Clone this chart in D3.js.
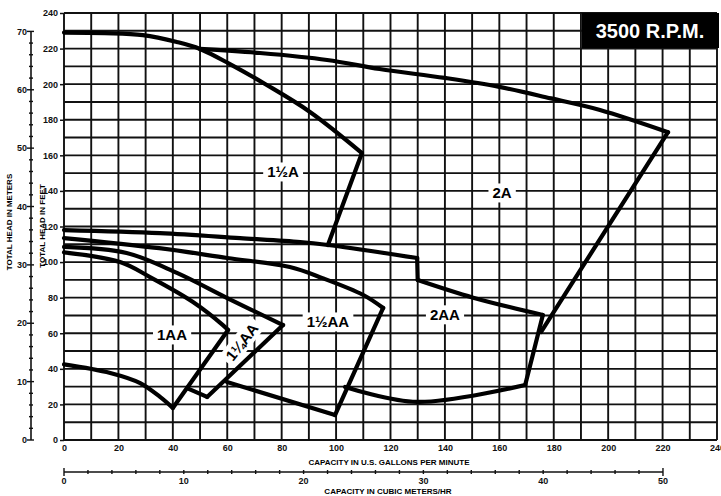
<!DOCTYPE html>
<html>
<head>
<meta charset="utf-8">
<script src="https://cdn.jsdelivr.net/npm/d3@7"></script>
<style>
  body { margin: 0; background: #fff; }
  text { font-family: "Liberation Sans", Arial, sans-serif; }
</style>
</head>
<body>
<script>
// pump curves, 3500 rpm -- values are [gpm, feet of head]

var gpmTicks = [0, 20, 40, 60, 80, 100, 120, 140, 160, 180, 200, 220, 240];
var feetTicks = [0, 20, 40, 60, 80, 100, 120, 140, 160, 180, 200, 220, 240];
var meterTicks = [0, 10, 20, 30, 40, 50, 60, 70];
var cubicTicks = [0, 10, 20, 30, 40, 50];

// impeller curves
var oneHalfAMax = [[0, 229], [15, 228.7], [29, 227.6], [41.5, 223.7], [50, 219.8], [61, 211.3], [73.9, 200.1], [90.4, 184.4], [109.5, 161.3]];
var twoAMax = [[50, 219.8], [72, 217.5], [96.7, 213.6], [116, 208.5], [140, 203.5], [160, 198.5], [179, 192], [197, 185.5], [222, 173]];
var twoARight = [[222, 173], [175.3, 60.7]];
var oneHalfARight = [[109.5, 161.3], [97, 109.6]];
var aMin = [[0, 118], [35.3, 116.3], [64.7, 113.5], [86.8, 111.3], [97, 109.6], [129.8, 102.3]];
var twoAAStep = [[129.8, 102.3], [130, 89.9]];
var twoAAMax = [[130, 89.9], [150.4, 80], [176, 70.3]];
var twoAARight = [[176, 70.3], [169.5, 30.9]];
var twoAAMin = [[103.3, 29.8], [129.8, 21.4], [169.5, 30.9]];
var oneHalfAAMax = [[0, 113.5], [35, 107.8], [60, 102.3], [83, 97.2], [95, 91], [110, 81.5], [117.3, 74.2]];
var oneHalfAARight = [[117.3, 74.2], [99.6, 14]];
var oneHalfAAMin = [[59.9, 32.6], [99.6, 14]];
var oneQuarterAAMax = [[0, 108.5], [23, 105.1], [41.5, 93.9], [60, 79.8], [80.5, 64.6]];
var oneQuarterAARight = [[80.5, 64.6], [52.6, 24.2]];
var oneQuarterAAMin = [[45.2, 29.2], [52.6, 24.2]];
var oneAAMax = [[0, 105.5], [20.6, 100], [31.6, 91.6], [47.4, 77.6], [58.4, 64.6], [60.3, 61.8]];
var oneAARight = [[60.3, 61.8], [40, 18]];
var oneAAMin = [[0, 42.5], [17, 37.7], [28, 32], [35.3, 24.2], [40, 18]];

var curves = [oneHalfAMax, twoAMax, twoARight, oneHalfARight, aMin, twoAAStep, twoAAMax,
  twoAARight, twoAAMin, oneHalfAAMax, oneHalfAARight, oneHalfAAMin, oneQuarterAAMax,
  oneQuarterAARight, oneQuarterAAMin, oneAAMax, oneAARight, oneAAMin];

// region labels
var labelNames = ["1½A", "2A", "2AA", "1½AA", "1AA", "1¼AA"];
var labelGpm = [80.5, 161, 140, 97, 39.7, 65.4];
var labelFt = [150.6, 138.8, 70.3, 66.3, 59, 55.1];
var labelAngle = [0, 0, 0, 0, 0, -52];

var width = 721, height = 496;
var plotL = 64, plotR = 717, plotT = 13, plotB = 440;

var x = d3.scaleLinear().domain([0, 240]).range([plotL, plotR]);
var y = d3.scaleLinear().domain([0, 240]).range([plotB, plotT]);
var yM = d3.scaleLinear().domain([0, 240 / 3.28084]).range([plotB, plotT]);
var xC = d3.scaleLinear().domain([0, 240 / 4.402868]).range([plotL, plotR]);

var svg = d3.select("body").append("svg")
    .attr("width", width)
    .attr("height", height);

// grid
var grid = svg.append("g").attr("stroke", "#111").attr("stroke-width", 1.9);
grid.selectAll(".v").data(d3.range(0, 241, 10)).enter()
  .append("line")
    .attr("class", "v")
    .attr("x1", d => x(d)).attr("x2", d => x(d))
    .attr("y1", plotT).attr("y2", plotB);
grid.selectAll(".h").data(d3.range(0, 241, 10)).enter()
  .append("line")
    .attr("class", "h")
    .attr("x1", plotL).attr("x2", plotR)
    .attr("y1", d => y(d)).attr("y2", d => y(d));

// feet axis
var feetAxis = d3.axisLeft(y).tickValues(feetTicks).tickSize(4).tickPadding(2);
svg.append("g")
    .attr("transform", "translate(" + plotL + ",0)")
    .call(feetAxis)
    .call(g => g.select(".domain").remove())
    .call(g => g.selectAll("line").attr("stroke", "#111").attr("stroke-width", 1.5))
    .selectAll("text")
      .attr("font-size", 9).attr("font-weight", "bold").attr("fill", "#111");

// gpm axis
var gpmAxis = d3.axisBottom(x).tickValues(gpmTicks).tickSize(0).tickPadding(5);
svg.append("g")
    .attr("transform", "translate(0," + plotB + ")")
    .call(gpmAxis)
    .call(g => g.select(".domain").remove())
    .selectAll("text")
      .attr("font-size", 9).attr("font-weight", "bold").attr("fill", "#111");

// meters axis
var mx = 31;
svg.append("line")
    .attr("x1", mx).attr("x2", mx)
    .attr("y1", yM(0)).attr("y2", yM(70))
    .attr("stroke", "#111").attr("stroke-width", 1.6);
svg.append("g").selectAll("line").data(d3.range(0, 71, 2)).enter()
  .append("line")
    .attr("x1", d => d % 10 == 0 ? mx - 4 : mx - 2)
    .attr("x2", d => d % 10 == 0 ? mx + 3 : mx + 2)
    .attr("y1", d => yM(d)).attr("y2", d => yM(d))
    .attr("stroke", "#111").attr("stroke-width", 1.4);
svg.append("g").selectAll("text").data(meterTicks).enter()
  .append("text")
    .attr("x", mx - 4).attr("y", d => yM(d))
    .attr("dy", "0.35em")
    .attr("text-anchor", "end")
    .attr("font-size", 9).attr("font-weight", "bold").attr("fill", "#111")
    .text(d => d);

// cubic meters axis
var cy = 472;
svg.append("line")
    .attr("x1", xC(0)).attr("x2", xC(50))
    .attr("y1", cy).attr("y2", cy)
    .attr("stroke", "#111").attr("stroke-width", 1.6);
svg.append("g").selectAll("line").data(d3.range(0, 51, 2)).enter()
  .append("line")
    .attr("x1", d => xC(d)).attr("x2", d => xC(d))
    .attr("y1", d => (d == 0 || d == 50) ? cy - 4 : cy - 2)
    .attr("y2", d => (d == 0 || d == 50) ? cy + 4 : cy + 2)
    .attr("stroke", "#111").attr("stroke-width", 1.4);
svg.append("g").selectAll("text").data(cubicTicks).enter()
  .append("text")
    .attr("x", d => xC(d)).attr("y", cy + 12)
    .attr("text-anchor", "middle")
    .attr("font-size", 9).attr("font-weight", "bold").attr("fill", "#111")
    .text(d => d);

// axis titles
svg.append("text")
    .attr("x", 389).attr("y", 465)
    .attr("text-anchor", "middle")
    .attr("font-size", 8).attr("font-weight", "bold")
    .text("CAPACITY IN U.S. GALLONS PER MINUTE");
svg.append("text")
    .attr("x", 388).attr("y", 494)
    .attr("text-anchor", "middle")
    .attr("font-size", 8).attr("font-weight", "bold")
    .text("CAPACITY IN CUBIC METERS/HR");
svg.append("text")
    .attr("transform", "translate(45,226) rotate(-90)")
    .attr("text-anchor", "middle")
    .attr("font-size", 8).attr("font-weight", "bold")
    .text("TOTAL HEAD IN FEET");
svg.append("text")
    .attr("transform", "translate(12,222) rotate(-90)")
    .attr("text-anchor", "middle")
    .attr("font-size", 8).attr("font-weight", "bold")
    .text("TOTAL HEAD IN METERS");

// curves
var line = d3.line()
    .x(d => x(d[0]))
    .y(d => y(d[1]))
    .curve(d3.curveCatmullRom.alpha(0.5));

svg.append("g").selectAll("path").data(curves).enter()
  .append("path")
    .attr("d", line)
    .attr("fill", "none")
    .attr("stroke", "#000")
    .attr("stroke-width", 4.2)
    .attr("stroke-linecap", "round")
    .attr("stroke-linejoin", "round");

// labels with white boxes
labelNames.forEach((name, i) => {
  var g = svg.append("g")
      .attr("transform", "translate(" + x(labelGpm[i]) + "," + y(labelFt[i]) + ") rotate(" + labelAngle[i] + ")");
  var t = g.append("text")
      .attr("text-anchor", "middle")
      .attr("dy", "0.36em")
      .attr("font-size", 15)
      .attr("font-weight", "bold")
      .text(name);
  var b = t.node().getBBox();
  g.insert("rect", "text")
      .attr("x", b.x - 4).attr("y", b.y - 1)
      .attr("width", b.width + 8).attr("height", b.height + 2)
      .attr("fill", "#fff");
});

// rpm box
svg.append("rect")
    .attr("x", 582).attr("y", plotT)
    .attr("width", plotR - 582 + 2).attr("height", 35)
    .attr("fill", "#000");
svg.append("text")
    .attr("x", 650).attr("y", 31)
    .attr("dy", "0.36em")
    .attr("text-anchor", "middle")
    .attr("fill", "#fff")
    .attr("font-size", 20)
    .attr("font-weight", "bold")
    .text("3500 R.P.M.");
</script>
</body>
</html>
